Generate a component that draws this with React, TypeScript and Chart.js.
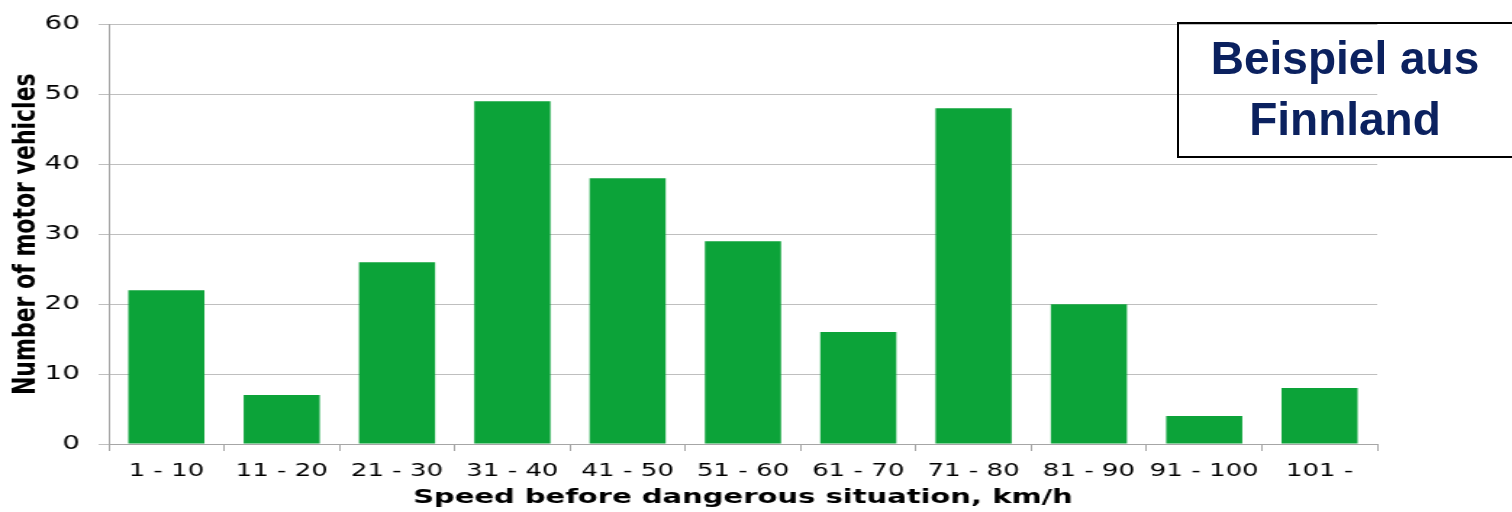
import React, { useEffect, useRef } from "react";
import { Chart, registerables } from "chart.js";

Chart.register(...registerables);

const categories = ["1 - 10", "11 - 20", "21 - 30", "31 - 40", "41 - 50", "51 - 60", "61 - 70", "71 - 80", "81 - 90", "91 - 100", "101 -"];
const vehicleCounts = [22, 7, 26, 49, 38, 29, 16, 48, 20, 4, 8];
const yTitle = "Number of motor vehicles";
const xTitle = "Speed before dangerous situation, km/h";
const noteLines = ["Beispiel aus", "Finnland"];

const STRETCH = 1512 / 1043;
const LOGICAL_W = 1043;
const H = 512;

export default function App() {
  const ref = useRef<HTMLCanvasElement | null>(null);

  useEffect(() => {
    if (!ref.current) return;
    const chart = new Chart(ref.current, {
      type: "bar",
      data: {
        labels: categories,
        datasets: [
          {
            data: vehicleCounts,
            backgroundColor: "#0ca339",
            borderWidth: 0,
            barPercentage: 0.66,
            categoryPercentage: 1,
          },
        ],
      },
      options: {
        responsive: false,
        animation: false,
        devicePixelRatio: 1,
        layout: { padding: { left: 0, top: 20, right: LOGICAL_W - 950, bottom: 0 } },
        plugins: { legend: { display: false }, tooltip: { enabled: false } },
        scales: {
          x: {
            afterFit: (s: any) => {
              s.height = 68;
            },
            grid: {
              display: true,
              offset: true,
              drawOnChartArea: false,
              drawTicks: true,
              tickLength: 7,
              color: "#a6a6a6",
            },
            border: { color: "#a6a6a6", width: 1 },
            ticks: {
              color: "#000",
              font: { family: "DejaVu Sans", size: 18 },
              padding: 10,
              maxRotation: 0,
              autoSkip: false,
            },
            title: {
              display: true,
              text: xTitle,
              color: "#000",
              font: { family: "DejaVu Sans", size: 20, weight: "bold" },
              padding: { top: 0, bottom: 2 },
            },
          },
          y: {
            min: 0,
            max: 60,
            afterFit: (s: any) => {
              s.width = 75;
            },
            grid: {
              color: "#bfbfbf",
              tickLength: 7,
              drawTicks: true,
            },
            border: { color: "#a6a6a6", width: 1 },
            ticks: {
              stepSize: 10,
              color: "#000",
              font: { family: "DejaVu Sans", size: 19 },
              padding: 13,
            },
            title: {
              display: true,
              text: yTitle,
              color: "#000",
              font: { family: "DejaVu Sans", size: 22, weight: "bold" },
              padding: { top: 5, bottom: 0 },
            },
          },
        },
      },
    });
    return () => chart.destroy();
  }, []);

  return (
    <div style={{ position: "fixed", left: 0, top: 0, width: 1512, height: H, overflow: "hidden", background: "#fff" }}>
      <div style={{ position: "absolute", left: 0, top: 0, width: LOGICAL_W, height: H, transform: `scaleX(${STRETCH})`, transformOrigin: "0 0" }}>
        <canvas ref={ref} width={LOGICAL_W} height={H} style={{ display: "block" }} />
      </div>
      <div
        style={{
          position: "absolute",
          left: 1177,
          top: 22,
          width: 340,
          height: 136,
          boxSizing: "border-box",
          border: "2px solid #000",
          paddingTop: 4,
          paddingRight: 4,
          textAlign: "center",
          fontFamily: "'Liberation Sans', Arial, sans-serif",
          fontWeight: "bold",
          fontSize: 46,
          lineHeight: "61px",
          color: "#0b215f",
        }}
      >
        {noteLines.map((l) => (
          <div key={l}>{l}</div>
        ))}
      </div>
    </div>
  );
}
